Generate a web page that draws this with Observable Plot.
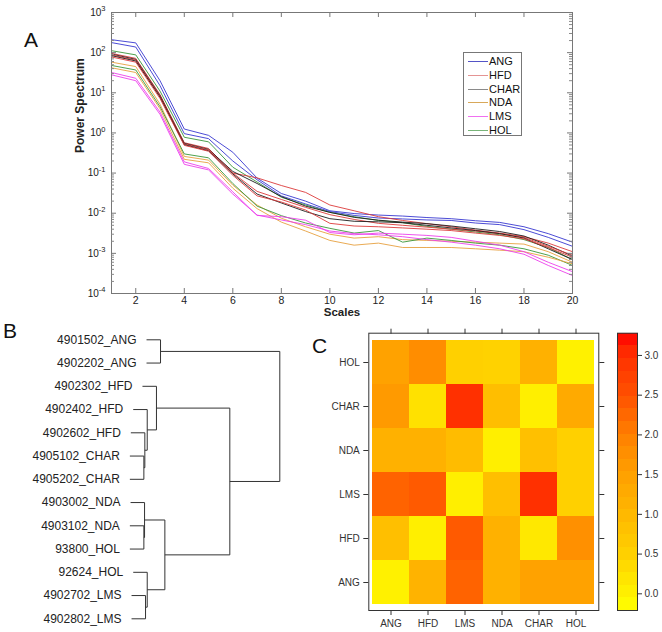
<!DOCTYPE html>
<html><head><meta charset="utf-8">
<script src="https://cdn.jsdelivr.net/npm/d3@7"></script>
<script src="https://cdn.jsdelivr.net/npm/@observablehq/plot@0.6"></script>
<style>
body{margin:0;background:#fff;font-family:Arial,"Liberation Sans",sans-serif;}
#root{position:relative;width:662px;height:632px;overflow:hidden;background:#fff;}
#root svg{position:absolute;overflow:visible;}
.plabel{position:absolute;font-size:21px;line-height:21px;color:#111;}
#legend{position:absolute;left:463px;top:52px;width:59px;height:84px;border:1px solid #777;background:#fff;box-sizing:border-box;}
.lrow{position:absolute;left:0;height:14px;font-size:11px;line-height:14px;color:#111;}
.lrow span.ln{position:absolute;left:4px;top:7px;width:20px;height:0;border-top-width:1px;border-top-style:solid;}
.lrow span.tx{position:absolute;left:25px;top:0;white-space:nowrap;}
</style></head><body><div id="root"></div>
<script>
// ---------- Panel A data ----------
const scaleX = [1,2,3,4,5,6,7,8,9,10,11,12,13,14,15,16,17,18,19,20];
const groupNames = ["ANG","HFD","CHAR","NDA","LMS","HOL"];
const groupColors = ["#3838d0","#dc3a3a","#1c1c1c","#e6a040","#ec40ec","#3a963a"];
const legendColors = ["#5454c6","#e49494","#8a8a8a","#d8a85a","#f070f0","#78b478"];
const ang1 = [210,175,20,1.25,0.87,0.33,0.075,0.031,0.020,0.0115,0.0098,0.0090,0.0085,0.0078,0.0073,0.0065,0.0059,0.0046,0.0031,0.0019];
const ang2 = [178,138,15,0.96,0.72,0.20,0.068,0.027,0.017,0.011,0.0088,0.0076,0.0072,0.0068,0.0066,0.0057,0.0052,0.0039,0.0025,0.0015];
const hol1 = [112,88,11,0.78,0.60,0.14,0.060,0.025,0.016,0.0105,0.0082,0.0066,0.0058,0.0047,0.0040,0.0034,0.0029,0.0022,0.0014,0.0007];
const hfd1 = [96,72,9,0.57,0.41,0.10,0.076,0.049,0.033,0.016,0.0115,0.0082,0.0066,0.0055,0.0046,0.0038,0.0032,0.0026,0.0018,0.0011];
const char1 = [92,68,8.5,0.55,0.39,0.11,0.055,0.026,0.015,0.0105,0.0079,0.0067,0.0060,0.0055,0.0048,0.0041,0.0035,0.0027,0.0016,0.00085];
const hfd2 = [88,65,8.2,0.53,0.38,0.10,0.035,0.022,0.014,0.0092,0.0070,0.0056,0.0050,0.0045,0.0040,0.0036,0.0031,0.0025,0.0015,0.0009];
const char2 = [84,62,7.8,0.51,0.36,0.095,0.030,0.018,0.011,0.0073,0.0063,0.0061,0.0058,0.0050,0.0043,0.0037,0.0031,0.0024,0.0013,0.0007];
const hfd3 = [78,58,7.2,0.49,0.35,0.088,0.027,0.019,0.012,0.0056,0.0048,0.0046,0.0043,0.0040,0.0037,0.0032,0.0028,0.0023,0.0014,0.0008];
const nda1 = [58,45,5.2,0.26,0.21,0.050,0.016,0.0075,0.0046,0.0030,0.0024,0.0026,0.0022,0.0021,0.0020,0.0019,0.0018,0.0017,0.0011,0.0006];
const hol2 = [48,37,4.5,0.30,0.24,0.055,0.015,0.0087,0.0057,0.0042,0.0032,0.0037,0.0019,0.0024,0.0021,0.0018,0.0016,0.0013,0.0009,0.0005];
const nda2 = [42,32,4.0,0.22,0.18,0.042,0.013,0.0060,0.0036,0.0021,0.0016,0.0018,0.0014,0.0014,0.0014,0.0013,0.0012,0.0011,0.0008,0.00055];
const lms1 = [32,23,3.3,0.19,0.13,0.034,0.0088,0.0082,0.0067,0.0033,0.0029,0.0032,0.0030,0.0028,0.0025,0.0020,0.0016,0.0011,0.0006,0.00035];
const lms2 = [28,20,2.9,0.165,0.12,0.030,0.0090,0.0068,0.0052,0.0036,0.0031,0.0029,0.0026,0.0022,0.0019,0.0016,0.0013,0.00095,0.0005,0.00028];
const seriesList = [["ANG",ang1],["ANG",ang2],["HOL",hol1],["HFD",hfd1],["CHAR",char1],["HFD",hfd2],["CHAR",char2],["HFD",hfd3],["NDA",nda1],["HOL",hol2],["NDA",nda2],["LMS",lms1],["LMS",lms2]];
const xTickVals = [2,4,6,8,10,12,14,16,18,20];
const yTickVals = [1e-4,1e-3,1e-2,1e-1,1,10,100,1000];

// ---------- Panel B data ----------
const leafNames = ["4901502_ANG","4902202_ANG","4902302_HFD","4902402_HFD","4902602_HFD","4905102_CHAR","4905202_CHAR","4903002_NDA","4903102_NDA","93800_HOL","92624_HOL","4902702_LMS","4902802_LMS"];
const mergeA = ["L5","L4","L3","L2","L8","L7","L11","L10","M5","M3","L0","M10"];
const mergeB = ["L6","M0","M1","M2","L9","M4","L12","M6","M7","M8","L1","M9"];
const mergeH = [0.029,0.036,0.053,0.119,0.029,0.034,0.041,0.053,0.179,0.643,0.148,1.0];
const hang = 0.1;

// ---------- Panel C data ----------
const heatCols = ["ANG","HFD","LMS","NDA","CHAR","HOL"];
const heatRows = ["HOL","CHAR","NDA","LMS","HFD","ANG"];
const rowHOL  = [1.45,1.80,0.50,0.47,1.15,0.00];
const rowCHAR = [1.60,0.25,3.00,0.88,0.03,1.30];
const rowNDA  = [1.15,1.15,0.92,0.03,0.83,0.50];
const rowLMS  = [2.30,2.40,0.03,0.85,3.00,0.50];
const rowHFD  = [0.85,0.03,2.40,1.15,0.14,1.75];
const rowANG  = [0.00,1.10,2.30,1.15,1.45,1.45];
const heatMatrix = [rowHOL,rowCHAR,rowNDA,rowLMS,rowHFD,rowANG];
const barTicks = [0,0.5,1,1.5,2,2.5,3];
const barDomain = [-0.21,3.28];

const font = "Arial, 'Liberation Sans', sans-serif";
const root = document.getElementById("root");

// ---------- Panel A ----------
const specRows = [];
seriesList.forEach(([g, vals], k) => vals.forEach((v, i) => specRows.push({sample: "s" + k, group: g, scale: scaleX[i], power: v})));
const minorY = [];
for (let e = -4; e < 3; e++) for (let m = 2; m <= 9; m++) minorY.push(m * Math.pow(10, e));
const innerW = 662 - 111 - 90, innerH = 330 - 12 - 37;
const svgA = Plot.plot({
  width: 662, height: 330,
  marginLeft: 111, marginRight: 90, marginTop: 12, marginBottom: 37,
  style: {fontFamily: font, fontSize: "10.5px", color: "#222", background: "transparent"},
  x: {domain: [1, 20]},
  y: {type: "log", domain: [1e-4, 1e3]},
  color: {domain: groupNames, range: groupColors},
  marks: [
    Plot.line(specRows, {x: "scale", y: "power", z: "sample", stroke: "group", strokeWidth: 0.9}),
    Plot.frame({stroke: "#777"}),
    Plot.tickX(xTickVals, {x: d => d, insetTop: innerH - 5, stroke: "#777"}),
    Plot.tickX(xTickVals, {x: d => d, insetBottom: innerH - 5, stroke: "#777"}),
    Plot.tickY(yTickVals, {y: d => d, insetRight: innerW - 5, stroke: "#777"}),
    Plot.tickY(yTickVals, {y: d => d, insetLeft: innerW - 5, stroke: "#777"}),
    Plot.tickY(minorY, {y: d => d, insetRight: innerW - 3, stroke: "#888"}),
    Plot.tickY(minorY, {y: d => d, insetLeft: innerW - 3, stroke: "#888"}),
    Plot.axisX(xTickVals, {anchor: "bottom", tickSize: 0, tickPadding: 3, label: null, fontSize: 10.5}),
    Plot.axisY(yTickVals, {anchor: "left", tickSize: 0, tickPadding: 6, label: null, fontSize: 10,
      tickFormat: d => "10^" + Math.round(Math.log10(d))}),
    Plot.text(["Power Spectrum"], {text: d => d, frameAnchor: "left", dx: -31, rotate: -90, fontWeight: "bold", fontSize: 12}),
    Plot.text(["Scales"], {text: d => d, frameAnchor: "bottom", dy: 22, fontWeight: "bold", fontSize: 11.5})
  ]
});
svgA.querySelectorAll("text").forEach(t => {
  const m = /^10\^(-?\d+)$/.exec(t.textContent);
  if (m) {
    t.textContent = "10";
    const ts = document.createElementNS("http://www.w3.org/2000/svg", "tspan");
    ts.setAttribute("dy", "-0.6em");
    ts.setAttribute("font-size", "7.5");
    ts.textContent = m[1];
    t.appendChild(ts);
  }
});
svgA.style.left = "0px"; svgA.style.top = "0px";
root.appendChild(svgA);

// legend
const legend = document.createElement("div");
legend.id = "legend";
groupNames.forEach((g, i) => {
  const row = document.createElement("div");
  row.className = "lrow";
  row.style.top = (1 + i * 13.8) + "px";
  row.innerHTML = `<span class="ln" style="border-top-color:${legendColors[i]}"></span><span class="tx">${g}</span>`;
  legend.appendChild(row);
});
root.appendChild(legend);

// ---------- Panel B ----------
const pos = {}, start = {}, hgt = {};
leafNames.forEach((n, i) => { pos["L" + i] = i; });
const segs = [];
mergeA.forEach((a, k) => {
  const b = mergeB[k], h = mergeH[k], id = "M" + k;
  [a, b].forEach(c => {
    const x1 = c[0] === "L" ? h - hang : hgt[c];
    if (c[0] === "L") start[c] = h - hang;
    segs.push({x1, x2: h, y1: pos[c], y2: pos[c]});
  });
  segs.push({x1: h, x2: h, y1: pos[a], y2: pos[b]});
  pos[id] = (pos[a] + pos[b]) / 2;
  hgt[id] = h;
});
const leaves = leafNames.map((n, i) => ({name: n, pos: i, start: start["L" + i]}));
const svgB = Plot.plot({
  width: 330, height: 320,
  margin: 0,
  style: {fontFamily: font, fontSize: "12px", color: "#222", background: "transparent"},
  x: {domain: [0, 1], range: [139.3, 279.3], axis: null},
  y: {domain: [0, 12], range: [29.3, 308.3], axis: null},
  marks: [
    Plot.link(segs, {x1: "x1", y1: "y1", x2: "x2", y2: "y2", stroke: "#333", strokeWidth: 1}),
    Plot.text(leaves, {x: "start", y: "pos", text: "name", textAnchor: "end", dx: -10, fontSize: 12, fill: "#222"})
  ]
});
svgB.style.left = "0px"; svgB.style.top = "310px";
root.appendChild(svgB);

// ---------- Panel C ----------
const colorStopVals = [-0.21, 0.5, 1.0, 1.5, 2.0, 2.5, 3.0, 3.28];
const colorStopCols = ["#ffff00", "#ffd000", "#ffb800", "#ffa000", "#ff8000", "#ff5000", "#ff3000", "#ff0000"];
const colorOpts = {type: "linear", domain: colorStopVals, range: colorStopCols, clamp: true};
const cells = [];
heatRows.forEach((r, i) => heatCols.forEach((c, j) => cells.push({row: r, col: c, value: heatMatrix[i][j]})));
const svgC = Plot.plot({
  width: 332, height: 332,
  marginLeft: 38.3, marginRight: 63.7, marginTop: 32.7, marginBottom: 22,
  style: {fontFamily: font, fontSize: "10px", color: "#333", background: "transparent"},
  x: {domain: heatCols, range: [41.7, 265], padding: 0},
  y: {domain: heatRows, range: [37.3, 306], padding: 0},
  color: colorOpts,
  marks: [
    Plot.cell(cells, {x: "col", y: "row", fill: "value", inset: 0, shapeRendering: "crispEdges"}),
    Plot.frame({stroke: "#333"}),
    Plot.axisX({anchor: "bottom", tickSize: 5, tickPadding: 4, label: null, fontSize: 10, stroke: "#333"}),
    Plot.axisX({anchor: "top", tickSize: 5, tickFormat: () => "", label: null, stroke: "#333"}),
    Plot.axisY({anchor: "left", tickSize: 5, tickPadding: 4, label: null, fontSize: 10, stroke: "#333"}),
    Plot.axisY({anchor: "right", tickSize: 5, tickFormat: () => "", label: null, stroke: "#333"})
  ]
});
svgC.style.left = "330px"; svgC.style.top = "300px";
root.appendChild(svgC);

// colour bar
const nBands = 22;
const bstep = (barDomain[1] - barDomain[0]) / nBands;
const bands = d3.range(nBands).map(i => ({y1: barDomain[0] + i * bstep, y2: barDomain[0] + (i + 1) * bstep, v: barDomain[0] + (i + 0.5) * bstep}));
const svgBar = Plot.plot({
  width: 62, height: 332,
  marginLeft: 17, marginRight: 25, marginTop: 32.7, marginBottom: 22,
  style: {fontFamily: font, fontSize: "10px", color: "#333", background: "transparent"},
  x: {domain: [0, 1], axis: null},
  y: {domain: barDomain},
  color: colorOpts,
  marks: [
    Plot.rect(bands, {x1: 0, x2: 1, y1: "y1", y2: "y2", fill: "v", shapeRendering: "crispEdges"}),
    Plot.frame({stroke: "#333"}),
    Plot.axisY(barTicks, {anchor: "right", tickSize: 4, tickPadding: 3, tickFormat: d3.format(".1f"), label: null, fontSize: 10, stroke: "#333"})
  ]
});
svgBar.style.left = "600px"; svgBar.style.top = "300px";
root.appendChild(svgBar);

// panel letters
[["A", 24, 29], ["B", 3, 320], ["C", 312, 335]].forEach(([t, x, y]) => {
  const d = document.createElement("div");
  d.className = "plabel";
  d.style.left = x + "px"; d.style.top = y + "px";
  d.textContent = t;
  root.appendChild(d);
});
</script></body></html>
